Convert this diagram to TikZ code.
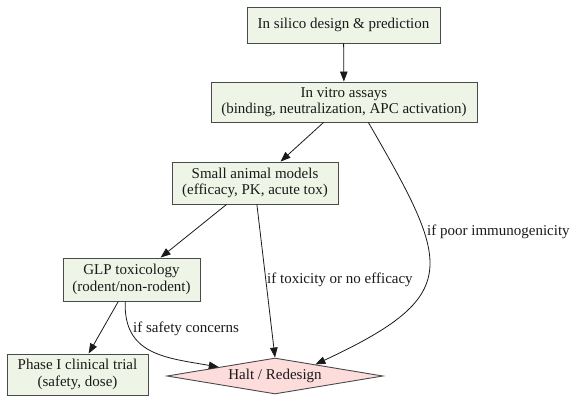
\documentclass[tikz,border=0pt]{standalone}
\usepackage{fontspec}
\setmainfont{Liberation Serif}
\usepackage{tikz}
\usetikzlibrary{arrows.meta,positioning,shapes.geometric}
\definecolor{ink}{HTML}{1A1A1A}
\definecolor{edge}{HTML}{4A4A4A}
\definecolor{stagefill}{HTML}{EEF4E6}
\definecolor{haltfill}{HTML}{FDDCDC}

\begin{document}
\begin{tikzpicture}[x=1pt,y=-1pt,font=\fontsize{15}{16.5}\selectfont,
  stagebox/.style={draw=edge,fill=stagefill,line width=.9pt,align=center,inner sep=0pt,text=ink},
  haltbox/.style={diamond,draw=edge,fill=haltfill,line width=.9pt,aspect=6,inner sep=0pt,
    minimum width=216pt,minimum height=36pt,text=ink},
  flow/.style={ink,line width=.8pt,-{Triangle[length=10pt,width=7.5pt]}},
  lbl/.style={text=ink,inner sep=0pt}]
\useasboundingbox (0,0) rectangle (572,398);
% stages
\node[stagebox,minimum width=193pt,minimum height=36pt] (silico) at (343.5,25) {In silico design \& prediction};
\node[stagebox,minimum width=266pt,minimum height=40pt] (vitro) at (344,102) {In vitro assays\\(binding, neutralization, APC activation)};
\node[stagebox,minimum width=166pt,minimum height=42pt] (animal) at (255,183) {Small animal models\\(efficacy, PK, acute tox)};
\node[stagebox,minimum width=137pt,minimum height=43pt] (glp) at (131.5,279.5) {GLP toxicology\\(rodent/non-rodent)};
\node[stagebox,minimum width=141pt,minimum height=41pt] (phase) at (77.5,374.5) {Phase I clinical trial\\(safety, dose)};
\node[haltbox] (halt) at (275,376) {Halt / Redesign};
% main flow
\draw[flow] (silico) -- (vitro);
\draw[flow] (vitro.-135) -- (animal.40);
\draw[flow] (animal.-143) -- (glp.37);
\draw[flow] (glp.-121) -- (phase.62);
% exits
\draw[flow] (vitro.-40) to[out=-60,in=25,looseness=1.7] (halt.16);
\draw[flow] (animal.-85) -- (halt.north);
\draw[flow] (glp.-106) to[out=-92,in=170,looseness=1.2] (halt.171);
\node[lbl,anchor=west] (lpoor) at (427,232) {if poor immunogenicity};
\node[lbl,anchor=west] (ltox) at (267,280) {if toxicity or no efficacy};
\node[lbl,anchor=west] (lsafe) at (133,329) {if safety concerns};
\end{tikzpicture}
\end{document}
